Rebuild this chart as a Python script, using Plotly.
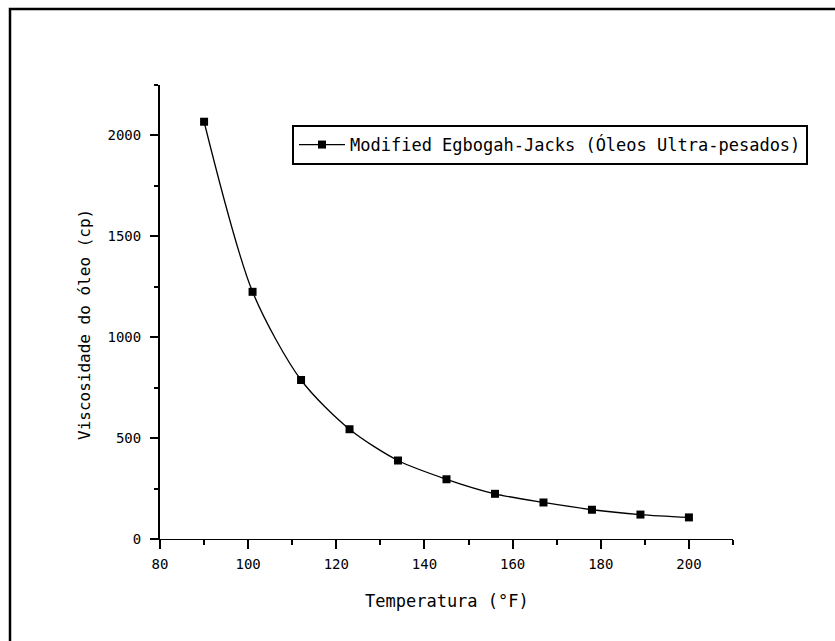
import plotly.graph_objects as go

temperatura = [90, 101, 112, 123, 134, 145, 156, 167, 178, 189, 200]
viscosidade = [2068, 1225, 788, 544, 389, 296, 224, 181, 145, 121, 107]
serie_nome = "Modified Egbogah-Jacks (Óleos Ultra-pesados)"
x_titulo = "Temperatura (°F)"
y_titulo = "Viscosidade do óleo (cp)"

FONT = "DejaVu Sans Mono"

fig = go.Figure()
fig.add_trace(go.Scatter(
    x=temperatura, y=viscosidade, name=serie_nome,
    mode="lines+markers",
    line=dict(color="black", width=1.3, shape="spline", smoothing=0.8),
    marker=dict(symbol="square", size=8, color="black"),
))

fig.update_layout(
    width=835, height=641,
    margin=dict(l=160, r=102, t=85, b=102),
    paper_bgcolor="white", plot_bgcolor="white",
    font=dict(family=FONT, color="black", size=14),
    showlegend=True,
    legend=dict(
        x=(292 - 160) / 573, y=(539 - 145) / 454, xanchor="left", yanchor="middle",
        bordercolor="black", borderwidth=2, bgcolor="white",
        font=dict(family=FONT, size=17, color="black"),
        tracegroupgap=0, itemwidth=46,
    ),
    xaxis=dict(
        range=[80, 210], showgrid=False, zeroline=False,
        showline=True, linecolor="black", linewidth=1,
        ticks="outside", ticklen=9, tickwidth=2, tickcolor="black",
        tickvals=[80, 100, 120, 140, 160, 180, 200],
        ticklabelstandoff=3,
        minor=dict(ticks="outside", ticklen=5, tickwidth=2, tickcolor="black", dtick=10, tick0=80),
        tickfont=dict(family=FONT, size=14),
    ),
    yaxis=dict(
        range=[0, 2250], showgrid=False, zeroline=False,
        showline=True, linecolor="black", linewidth=2,
        ticks="outside", ticklen=8, tickwidth=2, tickcolor="black",
        tickvals=[0, 500, 1000, 1500, 2000],
        ticklabelstandoff=6,
        minor=dict(ticks="outside", ticklen=4, tickwidth=2, tickcolor="black", dtick=250, tick0=0),
        tickfont=dict(family=FONT, size=14),
    ),
    shapes=[dict(
        type="rect", xref="paper", yref="paper",
        x0=(10 - 160) / 573, x1=(850 - 160) / 573,
        y0=(539 - 9) / 454, y1=(539 - 660) / 454,
        line=dict(color="black", width=2.5), fillcolor="rgba(0,0,0,0)", layer="below",
    )],
    annotations=[
        dict(text=x_titulo, xref="paper", yref="paper",
             x=(447 - 160) / 573, y=(539 - 601) / 454,
             xanchor="center", yanchor="middle", showarrow=False,
             font=dict(family=FONT, size=17, color="black")),
        dict(text=y_titulo, xref="paper", yref="paper",
             x=(84 - 160) / 573, y=(539 - 325) / 454, textangle=-90,
             xanchor="center", yanchor="middle", showarrow=False,
             font=dict(family=FONT, size=16, color="black")),
    ],
)

fig.write_html("out.html")
